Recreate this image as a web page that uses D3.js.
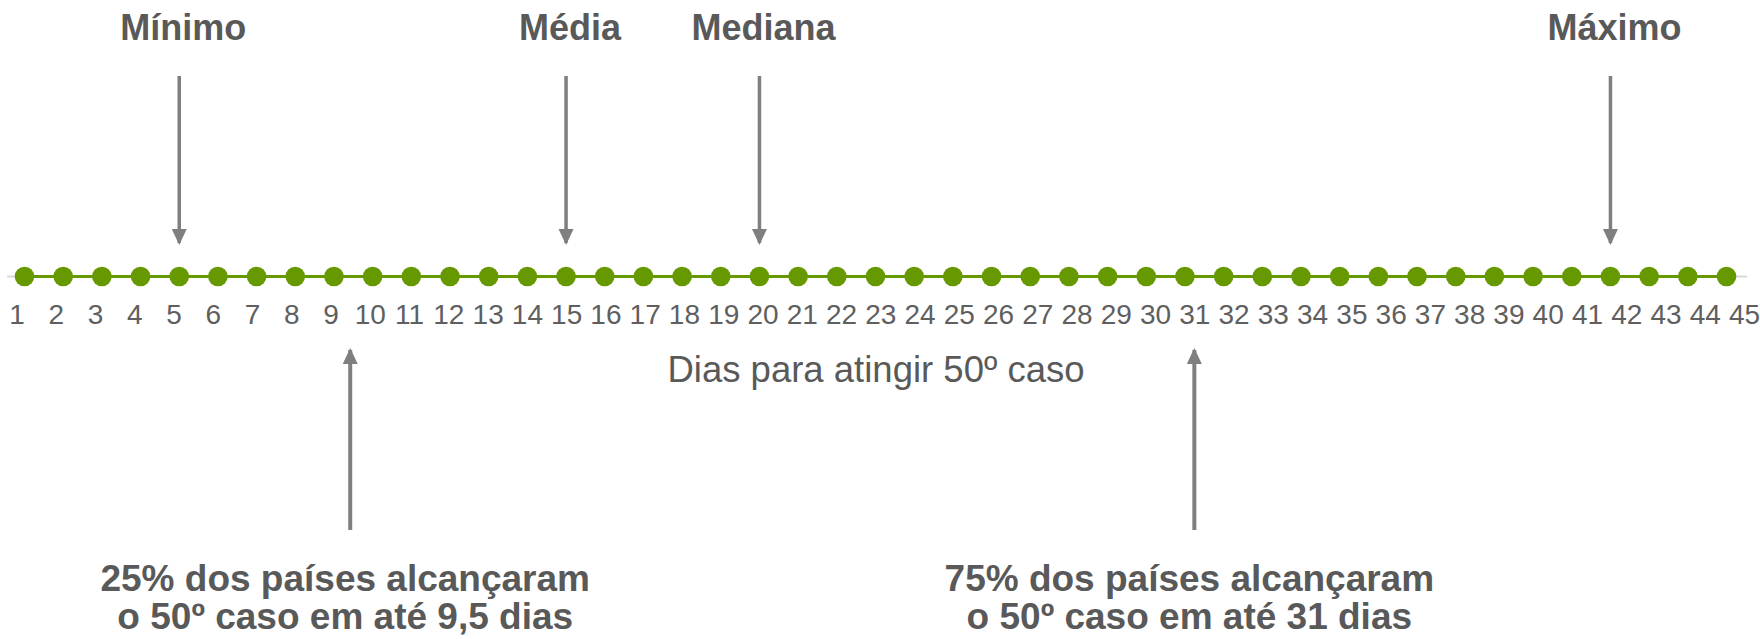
<!DOCTYPE html>
<html>
<head>
<meta charset="utf-8">
<script src="https://cdn.jsdelivr.net/npm/d3@7"></script>
<style>
    html, body { margin: 0; padding: 0; background: #fff; }
    svg { display: block; font-family: 'Liberation Sans', Arial, sans-serif; }
</style>
</head>
<body>
<div class="timeline"></div>
<script>
// Days on the axis (one dot per day)
const days = [1, 2, 3, 4, 5, 6, 7, 8, 9, 10, 11, 12, 13, 14, 15, 16, 17, 18, 19, 20, 21, 22, 23,
    24, 25, 26, 27, 28, 29, 30, 31, 32, 33, 34, 35, 36, 37, 38, 39, 40, 41, 42, 43, 44, 45];

// Summary statistics pointed at from above
const statLabels = ['Mínimo', 'Média', 'Mediana', 'Máximo'];
const statDays = [5, 15, 20, 42];

// Quartiles pointed at from below
const quartileDays = [9.5, 31];
const quartileLines = [
    ['25% dos países alcançaram', 'o 50º caso em até 9,5 dias'],
    ['75% dos países alcançaram', 'o 50º caso em até 31 dias']
];

const axisTitle = 'Dias para atingir 50º caso';

const width = 1760;
const height = 639;
const lineY = 276.5;
const textColor = '#595959';
const arrowColor = '#7f7f7f';
const green = '#669900';

const svg = d3.select('.timeline')
    .append('svg')
    .attr('width', width)
    .attr('height', height)
    .attr('viewBox', `0 0 ${width} ${height}`);

// Arrow head marker
svg.append('defs')
    .append('marker')
    .attr('id', 'head')
    .attr('viewBox', '0 0 16 16')
    .attr('refX', 14)
    .attr('refY', 8)
    .attr('markerUnits', 'userSpaceOnUse')
    .attr('markerWidth', 16)
    .attr('markerHeight', 16)
    .attr('orient', 'auto')
    .append('path')
    .attr('d', 'M0,0.5 L16,8 L0,15.5 Z')
    .attr('fill', arrowColor);

// Scales: dots and the printed day labels sit on slightly different spacings
const xDot = d3.scaleLinear()
    .domain([days[0], days[days.length - 1]])
    .range([24.5, 1726.5]);
const xLabel = d3.scaleLinear()
    .domain([days[0], days[days.length - 1]])
    .range([16.5, 1744]);

// Light grey baseline
svg.append('line')
    .attr('x1', 7)
    .attr('x2', 1747)
    .attr('y1', lineY)
    .attr('y2', lineY)
    .attr('stroke', '#d9d9d9')
    .attr('stroke-width', 2);

// Green line through the dots
svg.append('line')
    .attr('x1', xDot(days[0]))
    .attr('x2', xDot(days[days.length - 1]))
    .attr('y1', lineY)
    .attr('y2', lineY)
    .attr('stroke', green)
    .attr('stroke-width', 3);

svg.append('g')
    .selectAll('circle')
    .data(days)
    .join('circle')
    .attr('cx', (d) => xDot(d))
    .attr('cy', lineY)
    .attr('r', 9.8)
    .attr('fill', green);

// Day labels
const xAxis = d3.axisBottom(xLabel)
    .tickValues(days)
    .tickSize(0)
    .tickPadding(0)
    .tickFormat(d3.format('d'));
const axisG = svg.append('g')
    .attr('transform', 'translate(0, 304)')
    .call(xAxis);
axisG.select('.domain').remove();
axisG.selectAll('text')
    .attr('dy', '0.73em')
    .attr('fill', '#5f5f5f')
    .style('font-size', '28px')
    .style('font-family', "'Liberation Sans', Arial, sans-serif");

// Axis title
svg.append('text')
    .attr('x', 876)
    .attr('y', 381.5)
    .attr('text-anchor', 'middle')
    .attr('fill', textColor)
    .style('font-size', '36.5px')
    .text(axisTitle);

// Top statistics: label + downward arrow
const stats = svg.append('g')
    .selectAll('g')
    .data(statDays)
    .join('g');
stats.append('line')
    .attr('x1', (d) => xDot(d))
    .attr('x2', (d) => xDot(d))
    .attr('y1', 76)
    .attr('y2', 243)
    .attr('stroke', arrowColor)
    .attr('stroke-width', 3.5)
    .attr('marker-end', 'url(#head)');
stats.append('text')
    .attr('x', (d) => xDot(d) + 4)
    .attr('y', 40)
    .attr('text-anchor', 'middle')
    .attr('fill', textColor)
    .style('font-size', '36px')
    .style('font-weight', 'bold')
    .text((d, i) => statLabels[i]);

// Quartiles: upward arrow + two-line note
const quart = svg.append('g')
    .selectAll('g')
    .data(quartileDays)
    .join('g');
quart.append('line')
    .attr('x1', (d) => xLabel(d))
    .attr('x2', (d) => xLabel(d))
    .attr('y1', 530)
    .attr('y2', 350)
    .attr('stroke', arrowColor)
    .attr('stroke-width', 4)
    .attr('marker-end', 'url(#head)');
quart.append('text')
    .attr('text-anchor', 'middle')
    .attr('fill', textColor)
    .style('font-size', '37px')
    .style('font-weight', 'bold')
    .selectAll('tspan')
    .data((d, i) => quartileLines[i].map((t) => ({ t, x: xLabel(d) - 5 })))
    .join('tspan')
    .attr('x', (d) => d.x)
    .attr('y', (d, j) => 591 + j * 38)
    .text((d) => d.t);
</script>
</body>
</html>
